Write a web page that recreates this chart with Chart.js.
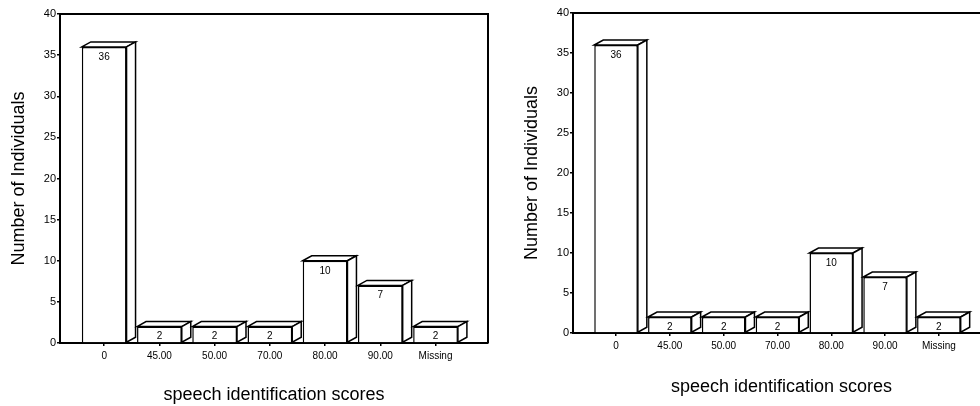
<!DOCTYPE html>
<html>
<head>
<meta charset="utf-8">
<script src="https://cdn.jsdelivr.net/npm/chart.js@4/dist/chart.umd.min.js"></script>
<style>
  html, body { margin: 0; padding: 0; background: #fff; overflow: hidden; }
  #wrap { position: relative; width: 980px; height: 406px; overflow: hidden; }
  .box { position: absolute; top: 0; height: 406px; }
  #leftBox { left: 0; width: 490px; }
  #rightBox { left: 490px; width: 510px; }
</style>
</head>
<body>
<div id="wrap">
  <div class="box" id="leftBox"><canvas id="left"></canvas></div>
  <div class="box" id="rightBox"><canvas id="right"></canvas></div>
</div>
<script>
// speech identification score groups and their counts (same in both panels)
const categories = ['0', '45.00', '50.00', '70.00', '80.00', '90.00', 'Missing'];
const counts = [36, 2, 2, 2, 10, 7, 2];
const yTicks = [0, 5, 10, 15, 20, 25, 30, 35, 40];

const FONT = 'Liberation Sans, Arial, sans-serif';
const dx = 9, dy = 5;

// draws the top and side faces of each bar plus the count inside it
const box3d = {
  id: 'box3d',
  afterDatasetsDraw(chart) {
    const ctx = chart.ctx;
    const meta = chart.getDatasetMeta(0);
    ctx.save();
    ctx.lineWidth = 1.5;
    ctx.strokeStyle = '#000';
    meta.data.forEach((bar, i) => {
      const p = bar.getProps(['x', 'y', 'base', 'width'], true);
      const l = p.x - p.width / 2, r = p.x + p.width / 2;
      ctx.fillStyle = '#fff';
      ctx.beginPath();
      ctx.moveTo(l, p.y); ctx.lineTo(l + dx, p.y - dy);
      ctx.lineTo(r + dx, p.y - dy); ctx.lineTo(r, p.y);
      ctx.closePath(); ctx.fill(); ctx.stroke();
      ctx.beginPath();
      ctx.moveTo(r, p.y); ctx.lineTo(r + dx, p.y - dy);
      ctx.lineTo(r + dx, p.base - dy); ctx.lineTo(r, p.base);
      ctx.closePath(); ctx.fill(); ctx.stroke();
      ctx.fillStyle = '#000';
      ctx.font = '10px ' + FONT;
      ctx.textAlign = 'center';
      ctx.textBaseline = 'top';
      ctx.fillText(String(counts[i]), p.x, p.y + 5);
    });
    ctx.restore();
  }
};

// top and right frame lines
const frame = {
  id: 'frame',
  beforeDatasetsDraw(chart) {
    const a = chart.chartArea, ctx = chart.ctx;
    ctx.save();
    ctx.strokeStyle = '#000';
    ctx.lineWidth = 2;
    ctx.beginPath();
    ctx.moveTo(a.left, a.top); ctx.lineTo(a.right, a.top); ctx.lineTo(a.right, a.bottom);
    ctx.stroke();
    ctx.restore();
  }
};

function makeChart(id, s) {
  return new Chart(document.getElementById(id), {
    type: 'bar',
    data: {
      datasets: [{
        data: counts.map((v, i) => ({ x: i, y: v })),
        backgroundColor: '#fff',
        borderColor: '#000',
        borderWidth: 1.5,
        categoryPercentage: 1,
        barPercentage: 0.81
      }]
    },
    options: {
      responsive: true,
      maintainAspectRatio: false,
      animation: false,
      layout: { padding: { top: s.top, right: s.right, left: 0, bottom: 0 } },
      plugins: { legend: { display: false }, tooltip: { enabled: false } },
      scales: {
        x: {
          type: 'linear',
          offset: false,
          min: -0.8,
          max: 6.95,
          afterBuildTicks: sc => { sc.ticks = categories.map((c, i) => ({ value: i })); },
          afterFit: sc => { sc.height = s.xh; },
          grid: { display: true, offset: false, drawOnChartArea: false, drawTicks: true, tickLength: 3, color: '#000', lineWidth: 1.5 },
          border: { display: true, color: '#000', width: 2 },
          ticks: {
            autoSkip: false, maxRotation: 0, color: '#000', padding: s.xpad,
            font: { family: FONT, size: 10 },
            callback: v => categories[v]
          },
          title: {
            display: true, text: 'speech identification scores', color: '#000',
            font: { family: FONT, size: 18 }, padding: { top: 0, bottom: s.xtb }
          }
        },
        y: {
          min: 0,
          max: 40,
          afterBuildTicks: sc => { sc.ticks = yTicks.map(v => ({ value: v })); },
          afterFit: sc => { sc.width = s.yw; },
          grid: { display: true, drawOnChartArea: false, drawTicks: true, tickLength: 3, color: '#000', lineWidth: 1.5 },
          border: { display: true, color: '#000', width: 2 },
          ticks: { color: '#000', padding: 1, font: { family: FONT, size: 11 } },
          title: {
            display: true, text: 'Number of Individuals', color: '#000',
            font: { family: FONT, size: 18 }, padding: { top: s.ytp, bottom: 0 }
          }
        }
      }
    },
    plugins: [frame, box3d]
  });
}

makeChart('left', { top: 14, right: 2, xh: 63, yw: 60, xpad: 4, xtb: 0, ytp: 8 });
makeChart('right', { top: 13, right: 10, xh: 73, yw: 83, xpad: 4, xtb: 8, ytp: 31 });
</script>
</body>
</html>
